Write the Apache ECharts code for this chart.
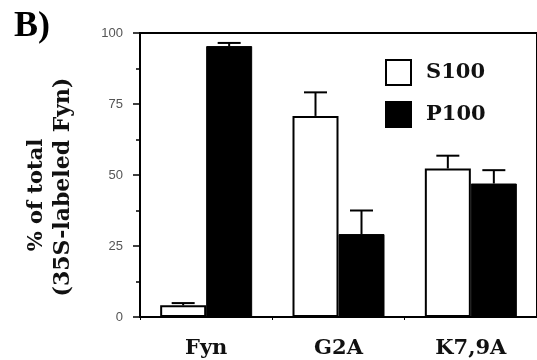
<!DOCTYPE html>
<html>
<head>
<meta charset="utf-8">
<script src="https://cdn.jsdelivr.net/npm/echarts@6/dist/echarts.min.js"></script>
<style>
html,body{margin:0;padding:0;background:#fff;}
#chart{width:537px;height:360px;}
</style>
</head>
<body>
<div id="chart"></div>
<script>
// ---- data ----
var categories = ['Fyn', 'G2A', 'K7,9A'];
var s100Values = [4.1, 70.8, 52.3];
var s100ErrTop = [4.9, 79.1, 56.8];
var p100Values = [95.4, 29.2, 47.0];
var p100ErrTop = [96.5, 37.5, 51.7];
var yTickLabels = ['0', '25', '50', '75', '100'];
var seriesNames = ['S100', 'P100'];

var WIDE = "'DejaVu Serif',serif";
var TIMES = "'Liberation Serif',serif";
var BAR_W = 46;

function errRender(offsetSign) {
  return function (params, api) {
    var i = api.value(0);
    var v = api.value(1);
    var t = api.value(2);
    var base = api.coord([i, v]);
    var top = api.coord([i, t]);
    var x = base[0] + offsetSign * BAR_W / 2;
    var half = 11.5;
    return {
      type: 'group',
      children: [
        {type: 'line', shape: {x1: x, y1: base[1], x2: x, y2: top[1]}, style: {stroke: '#000', lineWidth: 2}},
        {type: 'line', shape: {x1: x - half, y1: top[1], x2: x + half, y2: top[1]}, style: {stroke: '#000', lineWidth: 2}}
      ]
    };
  };
}

var s100Err = categories.map(function (c, i) { return [i, s100Values[i], s100ErrTop[i]]; });
var p100Err = categories.map(function (c, i) { return [i, p100Values[i], p100ErrTop[i]]; });

var chart = echarts.init(document.getElementById('chart'));
chart.setOption({
  animation: false,
  backgroundColor: '#fff',
  grid: {left: 140, top: 33, width: 408, height: 284, show: true, borderColor: '#000', borderWidth: 2, backgroundColor: 'transparent'},
  legend: {
    data: seriesNames,
    orient: 'vertical',
    left: 380, top: 54,
    itemWidth: 25, itemHeight: 25, itemGap: 15,
    icon: 'rect',
    selectedMode: false,
    textStyle: {fontFamily: WIDE, fontWeight: 'bold', fontSize: 21, color: '#111', padding: [0, 0, 0, 10]}
  },
  xAxis: {
    type: 'category',
    data: categories,
    axisLine: {lineStyle: {color: '#000', width: 2}},
    axisTick: {show: true, length: 3, alignWithLabel: false, lineStyle: {color: '#000', width: 1}},
    axisLabel: {fontFamily: WIDE, fontWeight: 'bold', fontSize: 21, color: '#111', margin: 21}
  },
  yAxis: {
    type: 'value',
    min: 0, max: 100, interval: 25,
    splitLine: {show: false},
    axisLine: {show: true, lineStyle: {color: '#000', width: 2}},
    axisTick: {show: true, length: 7, lineStyle: {color: '#000', width: 1.5}},
    minorTick: {show: true, splitNumber: 2, length: 4, lineStyle: {color: '#000', width: 1.5}},
    axisLabel: {
      fontFamily: "'Liberation Sans',Arial,sans-serif", fontSize: 13, color: '#555', margin: 17,
      formatter: function (v) { return yTickLabels[Math.round(v / 25)]; }
    }
  },
  graphic: [
    {type: 'text', left: 14, top: 9, style: {text: 'B)', font: "bold 36px " + TIMES, fill: '#000'}},
    {type: 'text', x: 37, y: 195, rotation: Math.PI / 2,
     style: {text: '% of total', font: "bold 21px " + WIDE, fill: '#111', textAlign: 'center', textVerticalAlign: 'middle'}},
    {type: 'text', x: 63, y: 187, rotation: Math.PI / 2,
     style: {text: '(35S-labeled Fyn)', font: "bold 22px " + WIDE, fill: '#111', textAlign: 'center', textVerticalAlign: 'middle'}}
  ],
  series: [
    {name: 'S100', type: 'bar', data: s100Values, barWidth: BAR_W, barGap: '0%',
     itemStyle: {color: '#fff', borderColor: '#000', borderWidth: 2}},
    {name: 'P100', type: 'bar', data: p100Values, barWidth: BAR_W, barGap: '0%',
     itemStyle: {color: '#000', borderColor: '#000', borderWidth: 1}},
    {type: 'custom', name: 'S100 err', data: s100Err, renderItem: errRender(-1), z: 3},
    {type: 'custom', name: 'P100 err', data: p100Err, renderItem: errRender(1), z: 3}
  ]
});
</script>
</body>
</html>
